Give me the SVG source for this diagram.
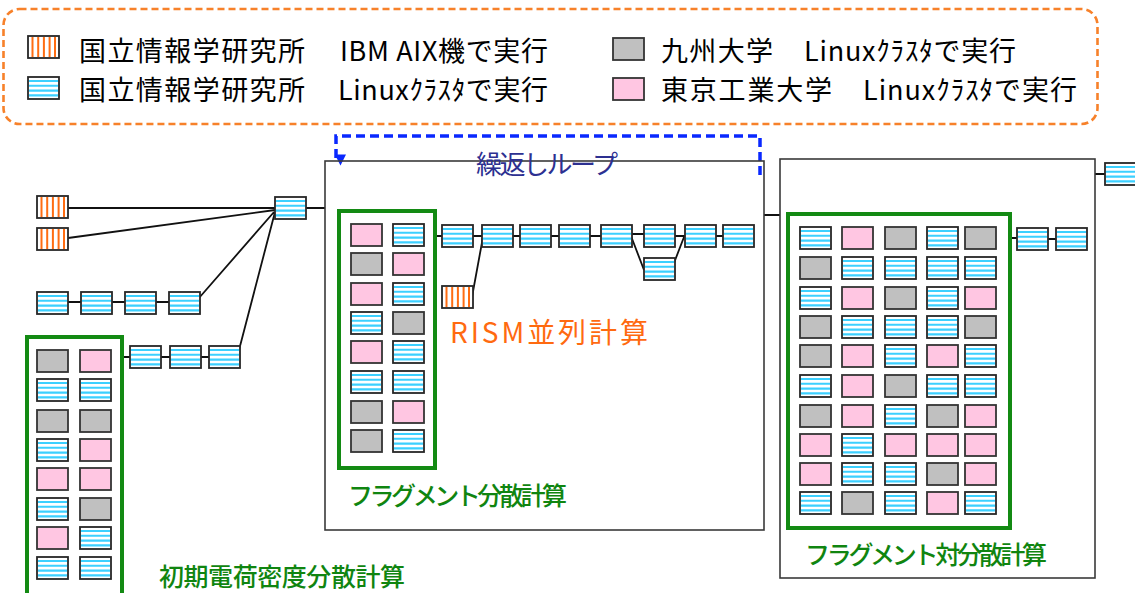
<svg xmlns="http://www.w3.org/2000/svg" xmlns:xlink="http://www.w3.org/1999/xlink" width="1135" height="593" viewBox="0 0 1135 593">
<style>
text{font-family:"Noto Sans CJK JP","Noto Sans CJK SC",sans-serif;}
.lg{font-size:27px;fill:#000;}
.gl{font-size:25px;fill:#108510;font-weight:500;}
.frame{fill:none;stroke:#3a3a3a;stroke-width:1.6;}
.gbox{fill:none;stroke:#138a13;stroke-width:4;}
.cn{fill:none;stroke:#111;stroke-width:1.8;}
</style>
<defs>
<g id="sB"><rect width="31" height="22" fill="#fff"/><path d="M1 4H30M1 8.8H30M1 13.6H30M1 18.4H30" stroke="#3cd0ff" stroke-width="2.1"/><rect width="31" height="22" fill="none" stroke="#262626" stroke-width="1.8"/></g>
<g id="sO"><rect width="31" height="22" fill="#fff"/><path d="M4.5 1V21M10.2 1V21M15.9 1V21M21.6 1V21M27 1V21" stroke="#ff6d12" stroke-width="2"/><rect width="31" height="22" fill="none" stroke="#262626" stroke-width="1.8"/></g>
<g id="sG"><rect width="31" height="22" fill="#c0c0c0" stroke="#333" stroke-width="1.8"/></g>
<g id="sP"><rect width="31" height="22" fill="#ffc6e2" stroke="#333" stroke-width="1.8"/></g>
<marker id="ah" viewBox="0 0 10 10" refX="5" refY="9" markerWidth="3.2" markerHeight="3.2" orient="auto-start-reverse" markerUnits="strokeWidth"><path d="M0 0L10 5L0 10Z" fill="#0a28ff"/></marker>
</defs>

<g id="legend">
<rect x="3.5" y="9" width="1094" height="115" rx="16" fill="none" stroke="#f7812a" stroke-width="2.6" stroke-dasharray="7 4"/>
<use href="#sO" x="28" y="36"/>
<use href="#sB" x="28" y="77"/>
<use href="#sG" x="613" y="38"/>
<use href="#sP" x="613" y="78"/>
<text class="lg" x="79" y="61" textLength="226" lengthAdjust="spacing">国立情報学研究所</text>
<text class="lg" x="340" y="61" textLength="208" lengthAdjust="spacing">IBM AIX機で実行</text>
<text class="lg" x="79" y="100" textLength="226" lengthAdjust="spacing">国立情報学研究所</text>
<text class="lg" x="338" y="100" textLength="210" lengthAdjust="spacing">Linuxｸﾗｽﾀで実行</text>
<text class="lg" x="661" y="61" textLength="112" lengthAdjust="spacing">九州大学</text>
<text class="lg" x="804" y="61" textLength="212" lengthAdjust="spacing">Linuxｸﾗｽﾀで実行</text>
<text class="lg" x="661" y="100" textLength="171" lengthAdjust="spacing">東京工業大学</text>
<text class="lg" x="863" y="100" textLength="214" lengthAdjust="spacing">Linuxｸﾗｽﾀで実行</text>
</g>

<g id="connectors">
<path class="cn" d="M65 208H275M68 238L275 210M199 298L274 212M239 350L275 212M306 208H325"/>
<path class="cn" d="M68 302H81M112 302H125M156 302H169"/>
<path class="cn" d="M123 357H130M161 357H170M201 357H209"/>
<path class="cn" d="M435 236H442M473 236H482M472 297L483 237M513 236H520M551 236H559M590 236H601M632 234H644M675 236H685M716 236H723M631 236L644 270M674 263L684 237"/>
<path class="cn" d="M764 215H780M1010 238H1017M1048 239H1056M1095 174H1105"/>
<path d="M760 175V136H336V160" fill="none" stroke="#0a28ff" stroke-width="3.5" stroke-dasharray="9 5" marker-end="url(#ah)"/>
</g>

<g id="left-group">
<g id="l-o1"><use href="#sO" x="37" y="196"/></g>
<g id="l-o2"><use href="#sO" x="37" y="228"/></g>
<g id="l-hub"><use href="#sB" x="275" y="197"/></g>
<g id="l-s1"><use href="#sB" x="37" y="292"/></g>
<g id="l-s2"><use href="#sB" x="81" y="292"/></g>
<g id="l-s3"><use href="#sB" x="125" y="292"/></g>
<g id="l-s4"><use href="#sB" x="169" y="292"/></g>
<g id="l-c1"><use href="#sB" x="130" y="346"/></g>
<g id="l-c2"><use href="#sB" x="170" y="346"/></g>
<g id="l-c3"><use href="#sB" x="209" y="346"/></g>
<g id="l-box"><rect class="gbox" x="27" y="337" width="95" height="270"/></g>
<g id="l-g1a"><use href="#sG" x="37" y="350"/></g><g id="l-g1b"><use href="#sP" x="80" y="350"/></g>
<g id="l-g2a"><use href="#sB" x="37" y="379"/></g><g id="l-g2b"><use href="#sB" x="80" y="379"/></g>
<g id="l-g3a"><use href="#sG" x="37" y="410"/></g><g id="l-g3b"><use href="#sG" x="80" y="410"/></g>
<g id="l-g4a"><use href="#sB" x="37" y="439"/></g><g id="l-g4b"><use href="#sP" x="80" y="439"/></g>
<g id="l-g5a"><use href="#sP" x="37" y="468"/></g><g id="l-g5b"><use href="#sP" x="80" y="468"/></g>
<g id="l-g6a"><use href="#sB" x="37" y="498"/></g><g id="l-g6b"><use href="#sG" x="80" y="498"/></g>
<g id="l-g7a"><use href="#sP" x="37" y="527"/></g><g id="l-g7b"><use href="#sB" x="80" y="527"/></g>
<g id="l-g8a"><use href="#sB" x="37" y="557"/></g><g id="l-g8b"><use href="#sB" x="80" y="557"/></g>
<text class="gl" x="159" y="586" textLength="246" lengthAdjust="spacing">初期電荷密度分散計算</text>
</g>

<g id="middle-group">
<rect class="frame" x="325" y="161" width="439" height="369"/>
<text x="476" y="174" font-size="26" fill="#2d3091" textLength="142" lengthAdjust="spacing">繰返しループ</text>
<g id="m-box"><rect class="gbox" x="339" y="211" width="96" height="257"/></g>
<g id="m-g1a"><use href="#sP" x="351" y="224"/></g><g id="m-g1b"><use href="#sB" x="393" y="224"/></g>
<g id="m-g2a"><use href="#sG" x="351" y="253"/></g><g id="m-g2b"><use href="#sP" x="393" y="253"/></g>
<g id="m-g3a"><use href="#sP" x="351" y="283"/></g><g id="m-g3b"><use href="#sB" x="393" y="283"/></g>
<g id="m-g4a"><use href="#sB" x="351" y="312"/></g><g id="m-g4b"><use href="#sG" x="393" y="312"/></g>
<g id="m-g5a"><use href="#sP" x="351" y="341"/></g><g id="m-g5b"><use href="#sB" x="393" y="341"/></g>
<g id="m-g6a"><use href="#sB" x="351" y="371"/></g><g id="m-g6b"><use href="#sB" x="393" y="371"/></g>
<g id="m-g7a"><use href="#sG" x="351" y="401"/></g><g id="m-g7b"><use href="#sP" x="393" y="401"/></g>
<g id="m-g8a"><use href="#sG" x="351" y="430"/></g><g id="m-g8b"><use href="#sB" x="393" y="430"/></g>
<g id="m-c1"><use href="#sB" x="442" y="225"/></g>
<g id="m-c2"><use href="#sB" x="482" y="225"/></g>
<g id="m-c3"><use href="#sB" x="520" y="225"/></g>
<g id="m-c4"><use href="#sB" x="559" y="225"/></g>
<g id="m-c5"><use href="#sB" x="601" y="225"/></g>
<g id="m-c6"><use href="#sB" x="644" y="225"/></g>
<g id="m-c7"><use href="#sB" x="685" y="225"/></g>
<g id="m-c8"><use href="#sB" x="723" y="225"/></g>
<g id="m-br"><use href="#sB" x="644" y="258"/></g>
<g id="m-or"><use href="#sO" x="442" y="286"/></g>
<text x="450" y="343" font-size="28" fill="#ff6a10" textLength="198" lengthAdjust="spacing">RISM並列計算</text>
<text class="gl" x="348" y="505" textLength="219" lengthAdjust="spacing">フラグメント分散計算</text>
</g>

<g id="right-group">
<rect class="frame" x="780" y="159" width="315" height="419"/>
<g id="r-box"><rect class="gbox" x="788" y="214" width="222" height="314"/></g>
<g id="r-1a"><use href="#sB" x="800" y="227"/></g><g id="r-1b"><use href="#sP" x="842" y="227"/></g><g id="r-1c"><use href="#sG" x="885" y="227"/></g><g id="r-1d"><use href="#sB" x="927" y="227"/></g><g id="r-1e"><use href="#sG" x="965" y="227"/></g>
<g id="r-2a"><use href="#sG" x="800" y="257"/></g><g id="r-2b"><use href="#sB" x="842" y="257"/></g><g id="r-2c"><use href="#sB" x="885" y="257"/></g><g id="r-2d"><use href="#sB" x="927" y="257"/></g><g id="r-2e"><use href="#sB" x="965" y="257"/></g>
<g id="r-3a"><use href="#sB" x="800" y="287"/></g><g id="r-3b"><use href="#sP" x="842" y="287"/></g><g id="r-3c"><use href="#sG" x="885" y="287"/></g><g id="r-3d"><use href="#sB" x="927" y="287"/></g><g id="r-3e"><use href="#sP" x="965" y="287"/></g>
<g id="r-4a"><use href="#sG" x="800" y="316"/></g><g id="r-4b"><use href="#sB" x="842" y="316"/></g><g id="r-4c"><use href="#sB" x="885" y="316"/></g><g id="r-4d"><use href="#sB" x="927" y="316"/></g><g id="r-4e"><use href="#sG" x="965" y="316"/></g>
<g id="r-5a"><use href="#sG" x="800" y="345"/></g><g id="r-5b"><use href="#sP" x="842" y="345"/></g><g id="r-5c"><use href="#sB" x="885" y="345"/></g><g id="r-5d"><use href="#sP" x="927" y="345"/></g><g id="r-5e"><use href="#sB" x="965" y="345"/></g>
<g id="r-6a"><use href="#sB" x="800" y="375"/></g><g id="r-6b"><use href="#sP" x="842" y="375"/></g><g id="r-6c"><use href="#sG" x="885" y="375"/></g><g id="r-6d"><use href="#sB" x="927" y="375"/></g><g id="r-6e"><use href="#sB" x="965" y="375"/></g>
<g id="r-7a"><use href="#sG" x="800" y="405"/></g><g id="r-7b"><use href="#sP" x="842" y="405"/></g><g id="r-7c"><use href="#sB" x="885" y="405"/></g><g id="r-7d"><use href="#sG" x="927" y="405"/></g><g id="r-7e"><use href="#sP" x="965" y="405"/></g>
<g id="r-8a"><use href="#sP" x="800" y="434"/></g><g id="r-8b"><use href="#sB" x="842" y="434"/></g><g id="r-8c"><use href="#sP" x="885" y="434"/></g><g id="r-8d"><use href="#sP" x="927" y="434"/></g><g id="r-8e"><use href="#sP" x="965" y="434"/></g>
<g id="r-9a"><use href="#sP" x="800" y="463"/></g><g id="r-9b"><use href="#sB" x="842" y="463"/></g><g id="r-9c"><use href="#sB" x="885" y="463"/></g><g id="r-9d"><use href="#sG" x="927" y="463"/></g><g id="r-9e"><use href="#sP" x="965" y="463"/></g>
<g id="r-10a"><use href="#sB" x="800" y="492"/></g><g id="r-10b"><use href="#sG" x="842" y="492"/></g><g id="r-10c"><use href="#sB" x="885" y="492"/></g><g id="r-10d"><use href="#sP" x="927" y="492"/></g><g id="r-10e"><use href="#sB" x="965" y="492"/></g>
<g id="r-c1"><use href="#sB" x="1017" y="228"/></g>
<g id="r-c2"><use href="#sB" x="1056" y="228"/></g>
<g id="r-out"><use href="#sB" x="1105" y="163"/></g>
<text class="gl" x="805" y="564" textLength="242" lengthAdjust="spacing">フラグメント対分散計算</text>
</g>
</svg>
